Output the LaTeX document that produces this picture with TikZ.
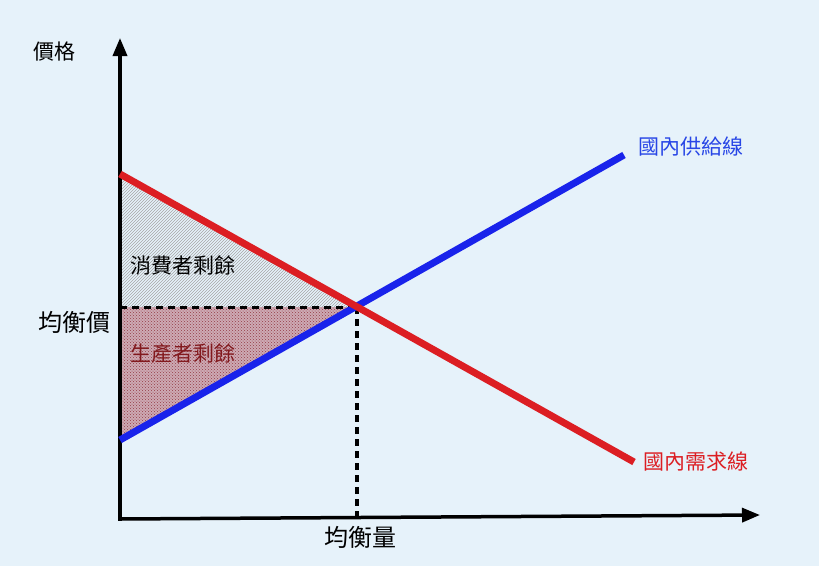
\documentclass[tikz,border=0pt]{standalone}
\usepackage{fontspec}
\newfontfamily\cjk{Noto Sans CJK TC}
\usetikzlibrary{arrows.meta, patterns, positioning, calc}
\definecolor{bgblue}{RGB}{230,242,250}
\definecolor{dmdred}{RGB}{220,30,35}
\definecolor{supblue}{RGB}{25,35,235}
\definecolor{lblblue}{RGB}{40,70,230}
\definecolor{psfill}{RGB}{205,170,180}
\definecolor{psdot}{RGB}{150,60,70}
\definecolor{pstext}{RGB}{130,25,30}
\tikzset{
  axis line/.style={line width=3.5pt, draw=black, -{Triangle[length=18pt,width=14pt]}},
  curve line/.style={line width=7pt},
  eq dash/.style={line width=3pt, dash pattern=on 7pt off 5pt, draw=black},
  cjk label/.style={font=\cjk\fontsize{21pt}{24pt}\selectfont, inner sep=0pt},
  big label/.style={cjk label, font=\cjk\fontsize{24pt}{27pt}\selectfont}
}
\begin{document}
\begin{tikzpicture}[x=1pt, y=-1pt]
  % background
  \fill[bgblue] (0,0) rectangle (819,566);
  \useasboundingbox (0,0) rectangle (819,566);

  % key points
  \coordinate (O) at (120,519);
  \coordinate (ytip) at (120,38);
  \coordinate (xtip) at (760,515);
  \coordinate (dA) at (120,174);
  \coordinate (dB) at (634,462);
  \coordinate (sA) at (120,440);
  \coordinate (sB) at (624,155);
  \coordinate (E) at (357,307);
  \coordinate (P) at (120,307);
  \coordinate (Q) at (357,517);

  % surplus areas
  \fill[pattern=north east lines, pattern color=gray!70] (dA) -- (E) -- (P) -- cycle;
  \fill[psfill] (P) -- (E) -- (sA) -- cycle;
  \fill[pattern=crosshatch dots, pattern color=psdot] (P) -- (E) -- (sA) -- cycle;

  % equilibrium guides
  \draw[eq dash] (P) -- (E);
  \draw[eq dash, line width=4pt] (E) -- (Q);

  % axes
  \draw[axis line] ($(O)+(0,1.75)$) -- (ytip);
  \draw[axis line] ($(O)+(-1.75,0)$) -- (xtip);

  % supply and demand
  \draw[curve line, supblue] (sA) -- (sB);
  \draw[curve line, dmdred] (dA) -- (dB);

  % labels
  \node[cjk label, anchor=center] (priceLbl) at (54,52) {價格};
  \node[big label, anchor=east] (eqPrice) at (111,322) {均衡價};
  \node[big label, anchor=north] (eqQty) at (360,526) {均衡量};
  \node[cjk label, anchor=west, text=lblblue] (supLbl) at (638,147) {國內供給線};
  \node[cjk label, anchor=west, text=dmdred] (dmdLbl) at (643,462) {國內需求線};
  \node[cjk label, anchor=west] (csLbl) at (130,265) {消費者剩餘};
  \node[cjk label, anchor=west, text=pstext] (psLbl) at (130,354) {生產者剩餘};
\end{tikzpicture}
\end{document}
